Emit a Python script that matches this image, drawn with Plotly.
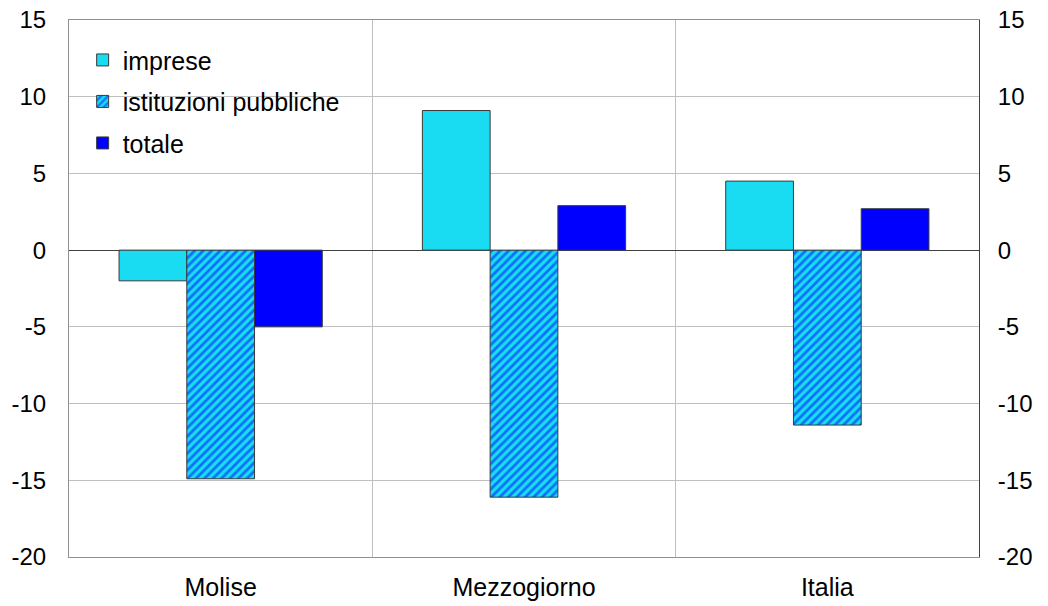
import plotly.graph_objects as go

categories = ["Molise", "Mezzogiorno", "Italia"]
imprese = [-2.0, 9.1, 4.5]
istituzioni = [-14.9, -16.1, -11.4]
totale = [-5.0, 2.9, 2.7]
y_ticks = [-20, -15, -10, -5, 0, 5, 10, 15]
y_tick_labels = ["-20", "-15", "-10", "-5", "0", "5", "10", "15"]

FONT = "Liberation Sans, Arial, sans-serif"
FS = 24
FS_TXT = 25
outline = dict(color="#3a3a3a", width=1)

fig = go.Figure()
fig.add_trace(go.Bar(name="imprese", x=categories, y=imprese,
                     marker=dict(color="#19dcf2", line=outline),
                     legendgroup="a"))
fig.add_trace(go.Bar(name="istituzioni pubbliche", x=categories, y=istituzioni,
                     marker=dict(color="#19dcf2", line=outline,
                                 pattern=dict(shape="/", fgcolor="#0000ff",
                                              bgcolor="#19dcf2", size=6,
                                              solidity=0.45, fillmode="overlay")),
                     legendgroup="b"))
fig.add_trace(go.Bar(name="totale", x=categories, y=totale,
                     marker=dict(color="#0000ff", line=outline),
                     legendgroup="c"))
# invisible trace to activate the right axis
fig.add_trace(go.Scatter(x=categories, y=totale, yaxis="y2", mode="markers",
                         marker=dict(opacity=0), showlegend=False,
                         hoverinfo="skip"))

fig.update_layout(
    width=1048, height=606,
    margin=dict(l=69, r=69, t=20, b=49),
    paper_bgcolor="white", plot_bgcolor="white",
    font=dict(family=FONT, size=FS, color="black"),
    barmode="group", bargap=0.33, bargroupgap=0,
    showlegend=True,
    legend=dict(x=0.015, y=0.968, xanchor="left", yanchor="top",
                bgcolor="rgba(0,0,0,0)", tracegroupgap=6,
                font=dict(size=FS_TXT), itemwidth=30),
    xaxis=dict(tickson="boundaries", showgrid=True, gridcolor="#c0c0c0",
               gridwidth=1, ticks="", showline=True, linecolor="#909090",
               mirror=True, tickfont=dict(size=FS_TXT), automargin=False,
               ticklabelstandoff=8),
    yaxis=dict(range=[-20, 15], tickvals=y_ticks, ticktext=y_tick_labels,
               showgrid=True, gridcolor="#c0c0c0", gridwidth=1,
               zeroline=True, zerolinecolor="#404040", zerolinewidth=1,
               showline=True, linecolor="#909090", ticks="",
               tickfont=dict(size=FS), ticklabelstandoff=17, automargin=False,
               ticklabeloverflow="allow"),
    yaxis2=dict(range=[-20, 15], tickvals=y_ticks, ticktext=y_tick_labels,
                overlaying="y", side="right", showgrid=False, zeroline=False,
                showline=True, linecolor="#404040", ticks="",
                tickfont=dict(size=FS), ticklabelstandoff=13, automargin=False,
                ticklabeloverflow="allow"),
)

fig.write_html("out.html",
               config={"displayModeBar": False},
               post_script="document.body.style.margin='0';")
